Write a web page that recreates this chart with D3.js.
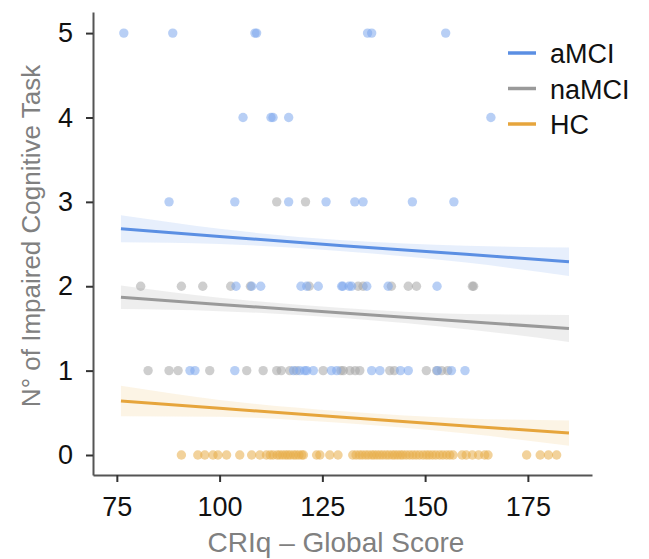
<!DOCTYPE html>
<html>
<head>
<meta charset="utf-8">
<script src="https://cdn.jsdelivr.net/npm/d3@7"></script>
<style>
  body { margin: 0; background: #fff; }
  svg text { font-family: "Liberation Sans", Arial, sans-serif; }
</style>
</head>
<body>
<svg id="chart"></svg>
<script>
var width = 649;
var height = 559;

// group names, same order as legend
var groups = ["aMCI", "naMCI", "HC"];

// observed points: [CRIq score, number of impaired tasks]
var aMCIPoints = [
  [76.7, 5], [88.6, 5], [108.6, 5], [109, 5], [136, 5], [137, 5], [155, 5],
  [105.7, 4], [112.5, 4], [113, 4], [116.8, 4], [166, 4],
  [87.7, 3], [103.7, 3], [116.8, 3], [125.9, 3], [132.9, 3], [134.9, 3], [146.9, 3], [157, 3],
  [104, 2], [107.8, 2], [110, 2], [119.8, 2], [121.2, 2], [124, 2], [129.7, 2], [130, 2],
  [131.5, 2], [132.1, 2], [135.8, 2], [141, 2], [152.9, 2],
  [92.8, 1], [94, 1], [103.7, 1], [118, 1], [119.5, 1], [120.7, 1], [121.2, 1], [122.8, 1],
  [127.2, 1], [128.5, 1], [137, 1], [139, 1], [144, 1], [145.9, 1], [153, 1], [156.4, 1], [159.7, 1]
];
var naMCIPoints = [
  [113.9, 3], [120.9, 3],
  [80.8, 2], [90.7, 2], [95.9, 2], [102.7, 2], [107.5, 2], [121.8, 2], [133.7, 2], [134.9, 2],
  [141.8, 2], [145.9, 2], [147.9, 2], [161.5, 2], [161.8, 2],
  [82.6, 1], [87.7, 1], [89.9, 1], [97.6, 1], [106.6, 1], [110.6, 1], [113.9, 1], [115, 1],
  [117.1, 1], [118.7, 1], [125.2, 1], [129.5, 1], [130.1, 1], [131.7, 1], [133, 1], [134.1, 1],
  [141.4, 1], [142.5, 1], [150.3, 1], [152.8, 1], [154, 1], [155.5, 1]
];
var HCPoints = [
  [90.7, 0], [94.7, 0], [96.4, 0], [98.4, 0], [99.6, 0], [101.7, 0], [104.9, 0], [107.8, 0],
  [109.8, 0], [111.4, 0], [112.3, 0], [113, 0], [114, 0], [114.6, 0], [115.3, 0], [116, 0],
  [116.6, 0], [117.2, 0], [118, 0], [118.6, 0], [119.3, 0], [120, 0], [120.4, 0], [123.6, 0],
  [124.4, 0], [126.8, 0], [128.8, 0], [132.4, 0], [133.2, 0], [134, 0], [134.7, 0], [135.5, 0],
  [136.2, 0], [137, 0], [137.6, 0], [138.3, 0], [139, 0], [139.7, 0], [140.5, 0], [141.2, 0],
  [142, 0], [142.6, 0], [143.3, 0], [144, 0], [144.6, 0], [145.4, 0], [146.2, 0], [147, 0],
  [147.8, 0], [148.6, 0], [149.5, 0], [150.3, 0], [151, 0], [151.8, 0], [152.6, 0], [153.5, 0],
  [154.3, 0], [155.2, 0], [156, 0], [156.8, 0], [159, 0], [160, 0], [161.5, 0], [163, 0],
  [164.5, 0], [165.3, 0], [174.7, 0], [178, 0], [180, 0], [182, 0]
];

// fitted regression lines and confidence half widths, read at these scores
var fitX = [76, 100, 130, 160, 185];
var aMCIFit = [2.68, 2.59, 2.48, 2.38, 2.29];
var naMCIFit = [1.87, 1.785, 1.683, 1.581, 1.50];
var HCFit = [0.64, 0.553, 0.448, 0.344, 0.26];
var aMCIHalf = [0.16, 0.09, 0.065, 0.10, 0.17];
var naMCIHalf = [0.14, 0.08, 0.06, 0.09, 0.16];
var HCHalf = [0.18, 0.10, 0.07, 0.09, 0.15];

var xTicks = [75, 100, 125, 150, 175];
var yTicks = [0, 1, 2, 3, 4, 5];

var lineColor = { aMCI: "#5b8fe3", naMCI: "#9a9a9a", HC: "#e6a53c" };
var dotColor = { aMCI: "#7ea8ec", naMCI: "#a6a6a6", HC: "#e8ad48" };
var bandColor = { aMCI: "#dfeafb", naMCI: "#e8e8e8", HC: "#fbf0dc" };

var pointsByGroup = { aMCI: aMCIPoints, naMCI: naMCIPoints, HC: HCPoints };
var fitByGroup = { aMCI: aMCIFit, naMCI: naMCIFit, HC: HCFit };
var halfByGroup = { aMCI: aMCIHalf, naMCI: naMCIHalf, HC: HCHalf };

var svg = d3.select('#chart').attr('width', width).attr('height', height);

var x = d3.scaleLinear().domain([69.2, 190.6]).range([93, 592]);
var y = d3.scaleLinear().domain([-0.237, 5.25]).range([475, 12]);

// bands first, then points, then lines
groups.forEach(function(g) {
  var rows = fitX.map(function(v, i) {
    return { x: v, lo: fitByGroup[g][i] - halfByGroup[g][i], hi: fitByGroup[g][i] + halfByGroup[g][i] };
  });
  var area = d3.area().curve(d3.curveMonotoneX)
    .x(function(d) { return x(d.x); })
    .y0(function(d) { return y(d.lo); })
    .y1(function(d) { return y(d.hi); });
  svg.append('path').datum(rows)
    .attr('d', area)
    .attr('fill', bandColor[g])
    .attr('opacity', 0.75);
});

// draw HC first so blue and grey lie above it
["HC", "naMCI", "aMCI"].forEach(function(g) {
  svg.append('g').selectAll('circle').data(pointsByGroup[g]).enter().append('circle')
    .attr('cx', function(d) { return x(d[0]); })
    .attr('cy', function(d) { return y(d[1]); })
    .attr('r', 4.7)
    .attr('fill', dotColor[g])
    .attr('fill-opacity', 0.55);
});

groups.forEach(function(g) {
  var line = d3.line()
    .x(function(d, i) { return x(fitX[i]); })
    .y(function(d) { return y(d); });
  svg.append('path').datum(fitByGroup[g])
    .attr('d', line)
    .attr('fill', 'none')
    .attr('stroke', lineColor[g])
    .attr('stroke-width', 3);
});

// axes
var xAxis = d3.axisBottom(x).tickValues(xTicks).tickSize(7).tickPadding(15).tickSizeOuter(0);
var yAxis = d3.axisLeft(y).tickValues(yTicks).tickFormat(d3.format('d'))
  .tickSize(7).tickPadding(13).tickSizeOuter(0);

var gx = svg.append('g').attr('transform', 'translate(0,475)').call(xAxis);
var gy = svg.append('g').attr('transform', 'translate(93,0)').call(yAxis);

[gx, gy].forEach(function(a) {
  a.select('.domain').attr('stroke', '#555').attr('stroke-width', 2);
  a.selectAll('.tick line').attr('stroke', '#333').attr('stroke-width', 2);
  a.selectAll('.tick text').attr('fill', '#111').attr('font-size', 27)
    .style('font-family', '"Liberation Sans", Arial, sans-serif');
});

svg.append('text').text('CRIq – Global Score')
  .attr('x', 336).attr('y', 552)
  .attr('text-anchor', 'middle')
  .attr('fill', '#808080')
  .attr('font-size', 28);

svg.append('text').text('N° of Impaired Cognitive Task')
  .attr('transform', 'translate(40,236) rotate(-90)')
  .attr('text-anchor', 'middle')
  .attr('fill', '#808080')
  .attr('font-size', 26);

// legend
var legend = svg.append('g').selectAll('g').data(groups).enter().append('g')
  .attr('transform', function(d, i) { return 'translate(508,' + (53 + i * 35.5) + ')'; });
legend.append('line')
  .attr('x1', 0).attr('x2', 28)
  .attr('stroke', function(d) { return lineColor[d]; })
  .attr('stroke-width', 3.5);
legend.append('text').text(function(d) { return d; })
  .attr('x', 42).attr('y', 10)
  .attr('fill', '#111')
  .attr('font-size', 27);
</script>
</body>
</html>
